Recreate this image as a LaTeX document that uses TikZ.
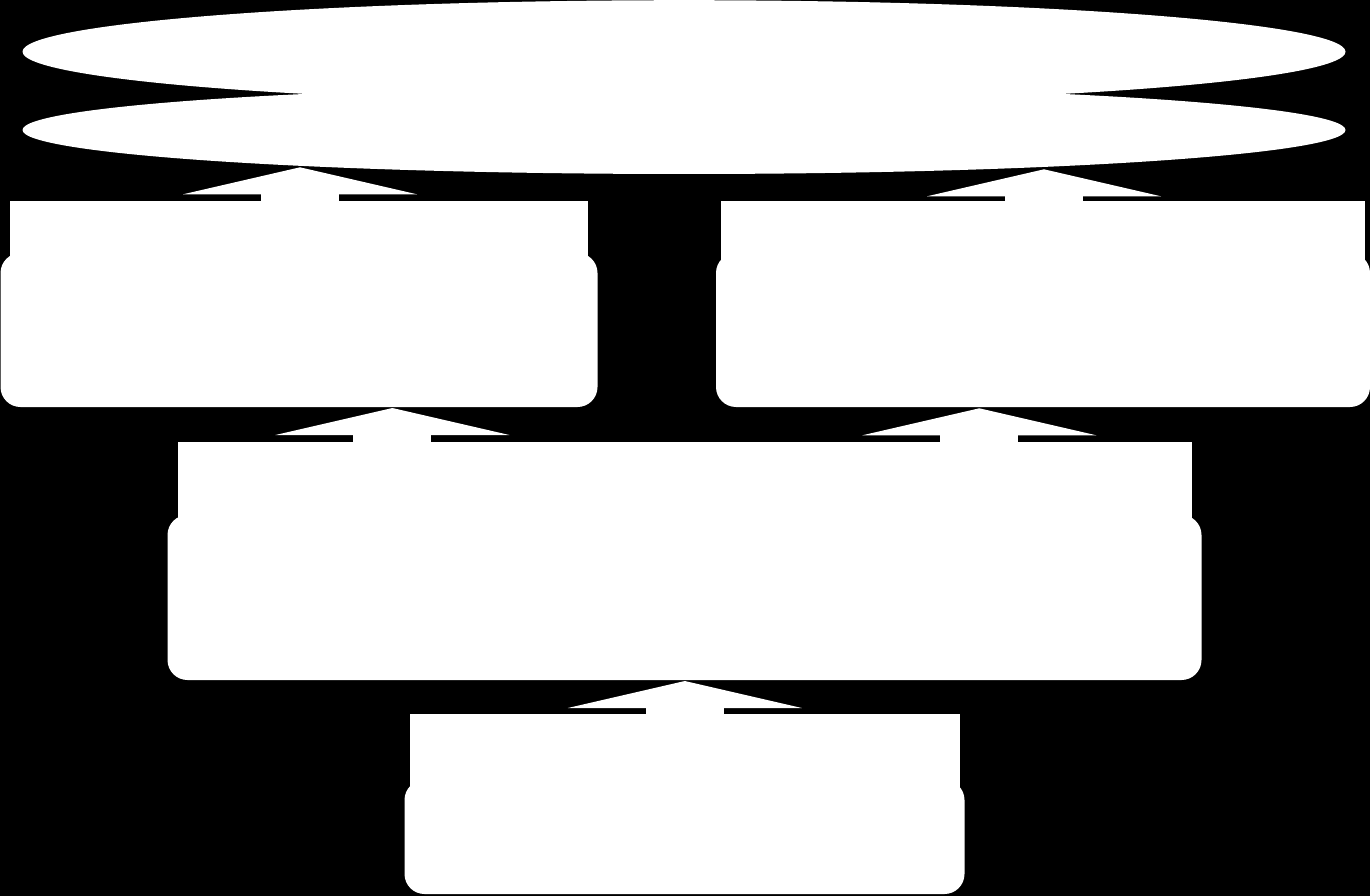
\documentclass[tikz,border=0pt]{standalone}
\usetikzlibrary{arrows.meta,shapes.geometric}
\begin{document}
\begin{tikzpicture}[x=1pt,y=-1pt,
  shp/.style={fill=white,draw=none,inner sep=0pt,outer sep=0pt},
  oval/.style={shp,ellipse},
  panel/.style={shp,rectangle,rounded corners=20pt},
  header/.style={shp,rectangle},
  fat/.style={draw=white,line width=78pt,-{Triangle[width=234pt,length=27pt,line width=0pt]}}]
\useasboundingbox (0,0) rectangle (1370,896);
\fill[black] (0,0) rectangle (1370,896);
% ellipses
\node[oval,minimum width=1323pt,minimum height=103pt] (e1) at (684,51.7) {};
\node[oval,minimum width=1323pt,minimum height=88pt] (e2) at (684,130) {};
% box 1
\node[header,minimum width=578pt,minimum height=59pt] (b1h) at (299,230.5) {};
\node[panel,minimum width=597pt,minimum height=154pt] (b1) at (299,330) {};
% box 2
\node[header,minimum width=644pt,minimum height=59pt] (b2h) at (1043,230.5) {};
\node[panel,minimum width=654pt,minimum height=154pt] (b2) at (1043,330) {};
% box 3
\node[header,minimum width=1014pt,minimum height=88pt] (b3h) at (685,486) {};
\node[panel,minimum width=1034pt,minimum height=165pt] (b3) at (684.5,597.5) {};
% box 4
\node[header,minimum width=550pt,minimum height=86pt] (b4h) at (685,757) {};
\node[panel,minimum width=560pt,minimum height=114pt] (b4) at (684.5,837) {};
% arrow tips
\coordinate (t1) at (300,167.3);
\coordinate (t2) at (1044,169.3);
\coordinate (t3) at (392.4,408);
\coordinate (t4) at (979.3,408.3);
\coordinate (t5) at (684.8,681);
% connectors
\draw[fat] (t1 |- b1h.center) -- (t1);
\draw[fat] (t2 |- b2h.center) -- (t2);
\draw[fat] (t3 |- b3h.center) -- (t3);
\draw[fat] (t4 |- b3h.center) -- (t4);
\draw[fat] (t5 |- b4h.center) -- (t5);
\end{tikzpicture}
\end{document}
